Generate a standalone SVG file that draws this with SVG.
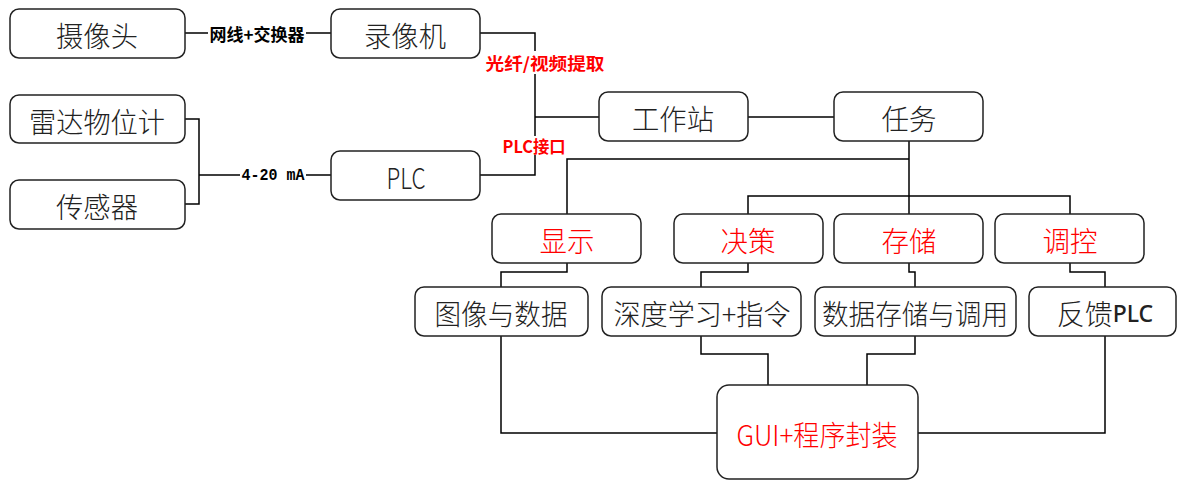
<svg xmlns="http://www.w3.org/2000/svg" width="1177" height="480" viewBox="0 0 1177 480">
<style>
.box{fill:#fff;stroke:#222;stroke-width:1.5}
.t{font-family:"Noto Sans CJK SC","Noto Sans",sans-serif;font-size:28px;font-weight:300;fill:#222;text-anchor:middle;dominant-baseline:central}
.r{fill:#f00}
.lbl{font-family:"Noto Sans CJK SC",sans-serif;font-size:17px;font-weight:bold;text-anchor:middle;dominant-baseline:central;fill:#000}
.lr{fill:#f00}
.c{fill:none;stroke:#000;stroke-width:1.5}
</style>
<rect width="1177" height="480" fill="#fff"/>
<g id="connectors">
<path class="c" d="M185,33H208M306,33H331"/>
<path class="c" d="M185,119H199V204H185M199,175H240M306,175H331"/>
<path class="c" d="M480,33H535V51M535,74V136M535,155V175H480M535,117H599"/>
<path class="c" d="M748,117H834"/>
<path class="c" d="M909,141V214M909,159H567V214M748,214V196H1070V214"/>
<path class="c" d="M567,263V272H501V287M748,263V272H701V287M909,263V272H915V287M1070,263V272H1105V287"/>
<path class="c" d="M501,336V433H717M701,336V354H768V385M915,336V354H867V385M1105,336V433H918"/>
<text class="lbl" x="257" y="33" textLength="95" lengthAdjust="spacingAndGlyphs">网线+交换器</text>
<text x="273" y="175" font-family="Liberation Mono,monospace" font-size="17" font-weight="bold" text-anchor="middle" dominant-baseline="central" textLength="63" lengthAdjust="spacingAndGlyphs">4-20 mA</text>
<text class="lbl lr" x="545" y="62" font-size="18" textLength="119" lengthAdjust="spacingAndGlyphs">光纤/视频提取</text>
<text class="lbl lr" x="534" y="145" font-size="18" textLength="63" lengthAdjust="spacingAndGlyphs">PLC接口</text>
</g>
<g id="camera"><rect class="box" x="10" y="9" width="175" height="49" rx="9"/><text class="t" x="97" y="35" textLength="82" lengthAdjust="spacingAndGlyphs">摄像头</text></g>
<g id="recorder"><rect class="box" x="331" y="9" width="149" height="49" rx="9"/><text class="t" x="405" y="35" textLength="82" lengthAdjust="spacingAndGlyphs">录像机</text></g>
<g id="radar"><rect class="box" x="10" y="95" width="175" height="48" rx="9"/><text class="t" x="97" y="121" textLength="136" lengthAdjust="spacingAndGlyphs">雷达物位计</text></g>
<g id="sensor"><rect class="box" x="10" y="180" width="175" height="49" rx="9"/><text class="t" x="97" y="206" textLength="82" lengthAdjust="spacingAndGlyphs">传感器</text></g>
<g id="plc"><rect class="box" x="331" y="151" width="149" height="49" rx="9"/><text class="t" x="406" y="177" textLength="39" lengthAdjust="spacingAndGlyphs">PLC</text></g>
<g id="workstation"><rect class="box" x="599" y="92" width="149" height="49" rx="9"/><text class="t" x="673" y="118" textLength="82" lengthAdjust="spacingAndGlyphs">工作站</text></g>
<g id="task"><rect class="box" x="834" y="92" width="149" height="49" rx="9"/><text class="t" x="909" y="118" textLength="55" lengthAdjust="spacingAndGlyphs">任务</text></g>
<g id="display"><rect class="box" x="492" y="214" width="149" height="49" rx="9"/><text class="t r" x="567" y="240" textLength="55" lengthAdjust="spacingAndGlyphs">显示</text></g>
<g id="decision"><rect class="box" x="674" y="214" width="149" height="49" rx="9"/><text class="t r" x="748" y="240" textLength="55" lengthAdjust="spacingAndGlyphs">决策</text></g>
<g id="storage"><rect class="box" x="834" y="214" width="149" height="49" rx="9"/><text class="t r" x="909" y="240" textLength="55" lengthAdjust="spacingAndGlyphs">存储</text></g>
<g id="control"><rect class="box" x="995" y="214" width="149" height="49" rx="9"/><text class="t r" x="1070" y="240" textLength="55" lengthAdjust="spacingAndGlyphs">调控</text></g>
<g id="imagedata"><rect class="box" x="415" y="287" width="173" height="49" rx="9"/><text class="t" x="501" y="313" textLength="133" lengthAdjust="spacingAndGlyphs">图像与数据</text></g>
<g id="deeplearning"><rect class="box" x="602" y="287" width="199" height="49" rx="9"/><text class="t" x="702" y="313" textLength="177" lengthAdjust="spacingAndGlyphs">深度学习+指令</text></g>
<g id="datastore"><rect class="box" x="815" y="287" width="201" height="49" rx="9"/><text class="t" x="915" y="313" textLength="186" lengthAdjust="spacingAndGlyphs">数据存储与调用</text></g>
<g id="feedback"><rect class="box" x="1029" y="287" width="147" height="49" rx="9"/><text class="t" x="1105" y="313">反馈<tspan font-family="Noto Sans,sans-serif" font-size="23" font-weight="500">PLC</tspan></text></g>
<g id="gui"><rect class="box" x="717" y="385" width="201" height="94" rx="12"/><text class="t r" x="817" y="434" textLength="161" lengthAdjust="spacingAndGlyphs">GUI+程序封装</text></g>
</svg>
